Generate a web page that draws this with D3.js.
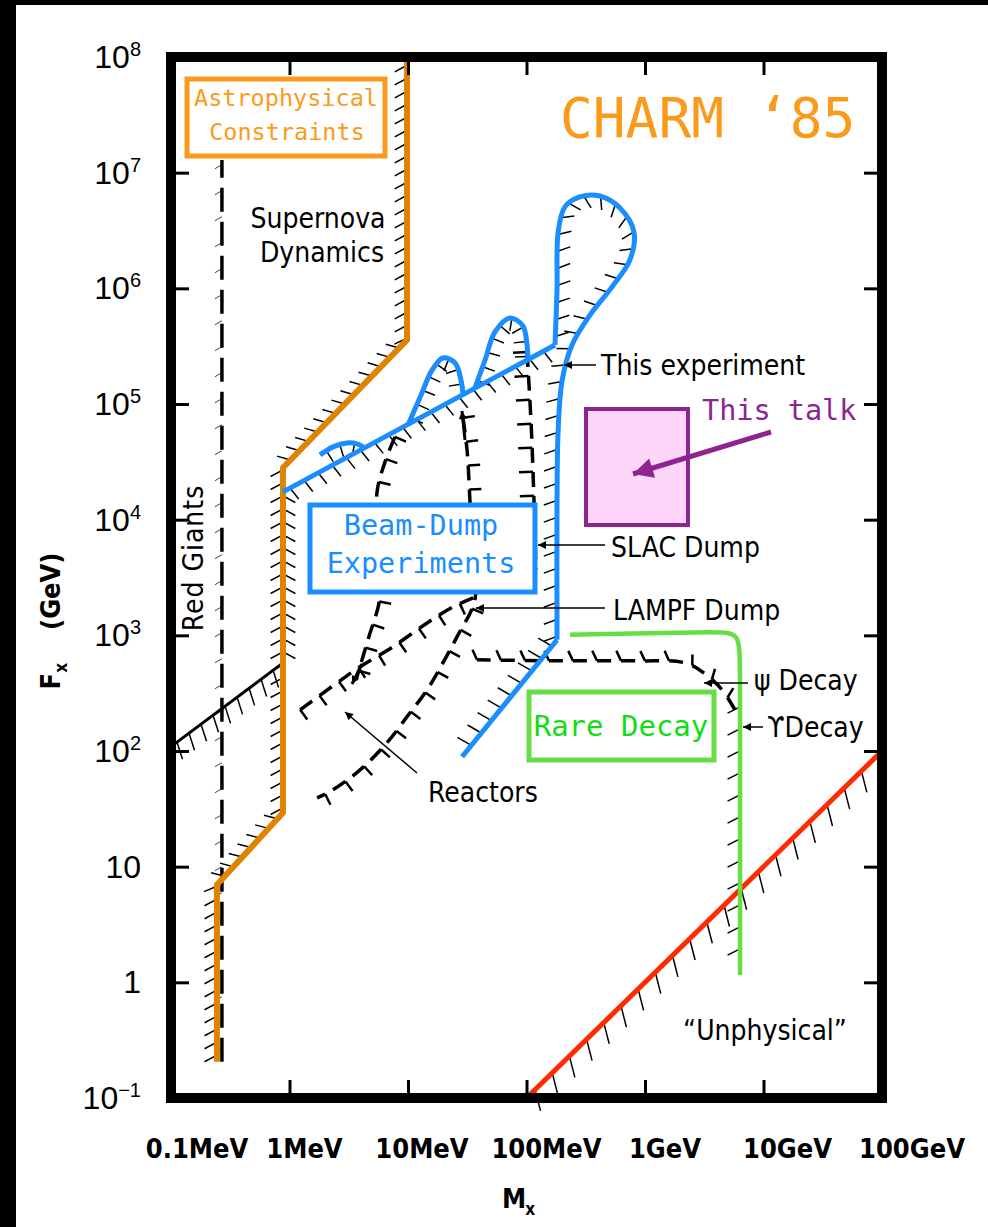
<!DOCTYPE html>
<meta charset="utf-8">
<style>
body{margin:0;background:#fff}
svg{display:block}
.tick line{stroke:#000;stroke-width:3}
.lbl{font-family:'DejaVu Sans Condensed','DejaVu Sans',sans-serif;font-stretch:condensed;font-size:28px;fill:#000}
.ax{font-family:'DejaVu Sans Condensed','DejaVu Sans',sans-serif;font-stretch:condensed;font-weight:bold;font-size:27px;fill:#000}
.yt{font-family:'Liberation Sans Narrow','Liberation Sans',sans-serif;font-size:32px;fill:#000}
.mono{font-family:'DejaVu Sans Mono',monospace}
</style>
<script src="https://d3js.org/d3.v7.min.js"></script>
<svg width="988" height="1227"></svg>
<script>
// axes (M_x and F_x in GeV)
var xTicks = [1e-4, 1e-3, 1e-2, 1e-1, 1, 10, 100];
var xTickLabels = ["0.1MeV", "1MeV", "10MeV", "100MeV", "1GeV", "10GeV", "100GeV"];
var yTicks = [1e-1, 1, 10, 1e2, 1e3, 1e4, 1e5, 1e6, 1e7, 1e8];
var yTickLabels = ["10^\u22121", "1", "10", "10^2", "10^3", "10^4", "10^5", "10^6", "10^7", "10^8"];

// limit curves, [M_x, F_x]
var astroLimit = [[2.44e-4, 0.206], [2.44e-4, 6.98], [8.81e-4, 29.2], [8.81e-4, 2.81e4], [9.82e-3, 3.58e5], [9.82e-3, 9.4e7]];
var redGiants = [[2.69e-4, 0.206], [2.69e-4, 1.29e7]];
var lowMassLimit = [[1e-4, 109], [8.81e-4, 578]];
var unphysical = [[0.1, 0.1], [100, 100]];
var dumpEdge = [[8.81e-4, 1.74e4], [0.174, 3.24e5]];
var dumpLoop = [[0.174, 3.24e5], [0.181, 9.7e5], [0.185, 3.07e6], [0.211, 5.06e6], [0.282, 6.17e6], [0.417, 6.29e6],
  [0.615, 4.95e6], [0.807, 3.07e6], [0.746, 1.76e6], [0.527, 1.03e6], [0.344, 5.89e5], [0.242, 3.24e5],
  [0.2, 1.61e5], [0.185, 5.97e4], [0.181, 1.48e4], [0.181, 914]];
var dumpTail = [[0.181, 914], [0.0286, 89.1]];
var bump1 = [[1.81e-3, 3.63e4], [2.33e-3, 4.26e4], [3.05e-3, 4.61e4], [3.72e-3, 4.52e4], [4.17e-3, 4.26e4]];
var bump2 = [[0.01, 6.59e4], [0.0126, 1.13e5], [0.016, 1.97e5], [0.0197, 2.5e5], [0.0249, 2.27e5], [0.028, 1.61e5], [0.0291, 1.22e5]];
var bump3 = [[0.0367, 1.38e5], [0.0447, 2.4e5], [0.0542, 4.2e5], [0.0726, 5.55e5], [0.0933, 4.73e5], [0.101, 3.24e5], [0.103, 2.4e5]];
var rareDecay = [[0.233, 1010], [3.67, 1070], [6.34, 1070], [6.34, 614], [6.34, 1.16]];
var upsilonLimit = [[6.34, 300], [6.34, 1.3]];
var psiLimit = [[0.0382, 614], [0.192, 602], [0.908, 602], [2.18, 578], [3.21, 465], [4.47, 338], [5.74, 227]];
var lampfLimit = [[0.0291, 7.59e4], [0.0315, 4.01e4], [0.0333, 1.48e4], [0.0354, 4.5e3], [0.0367, 2.03e3], [0.0259, 970],
  [0.0197, 578], [0.0145, 338], [9.82e-3, 198], [6.65e-3, 118], [3.94e-3, 68.7], [2.33e-3, 46.2], [1.71e-3, 39.4]];
var reactorLimit = [[1.23e-3, 227], [2.52e-3, 388], [3.94e-3, 535], [7.46e-3, 796], [0.0145, 1.28e3], [0.024, 1.76e3], [0.0354, 2.11e3]];
var reactorLimit2 = [[7.76e-3, 5.2e4], [6.4e-3, 3.16e4], [5.47e-3, 1.71e4], [5.6e-3, 5e3], [5.81e-3, 2.15e3], [4.59e-3, 914], [3.64e-3, 412]];
var slacLimit = [[0.101, 2.82e5], [0.109, 7.29e4], [0.1156, 1.48e4], [0.12, 3.68e3]];

var W = 988, H = 1227;
var margin = {top: 57, right: 106, bottom: 129, left: 171};
var x = d3.scaleLog().domain([1e-4, 100]).range([margin.left, W - margin.right]);
var y = d3.scaleLog().domain([0.1, 1e8]).range([H - margin.bottom, margin.top]);

var svg = d3.select("svg");
svg.append("rect").attr("width", W).attr("height", H).attr("fill", "#fff");
svg.append("rect").attr("width", 16).attr("height", H).attr("fill", "#000");
svg.append("rect").attr("width", W).attr("height", 5).attr("fill", "#000");

var defs = svg.append("defs");
function marker(id, color, w, h) {
  defs.append("marker").attr("id", id).attr("viewBox", "0 0 10 10").attr("refX", 10).attr("refY", 5)
    .attr("markerUnits", "userSpaceOnUse").attr("markerWidth", w).attr("markerHeight", h).attr("orient", "auto")
    .append("path").attr("d", "M0,0L10,5L0,10Z").attr("fill", color);
}
marker("arK", "#000", 14, 8);
marker("arP", "#8e2490", 26, 20);

var gH = svg.append("g"), gL = svg.append("g");

function trace(data, o) {
  var gen = d3.line().x(function(d) { return x(d[0]); }).y(function(d) { return y(d[1]); })
    .curve(o.curve || d3.curveLinear);
  var p = gL.append("path").attr("d", gen(data)).attr("fill", "none")
    .attr("stroke", o.color || "#000").attr("stroke-width", o.width || 3.5)
    .attr("stroke-linejoin", "round");
  if (o.dash) p.attr("stroke-dasharray", o.dash);
  return p;
}

// short hatch strokes along a path, on one side
function hatch(path, o) {
  var node = path.node(), L = node.getTotalLength();
  var step = o.step || 14, len = o.len || 14, side = o.side || 1, r = (o.rot || 0) * Math.PI / 180;
  for (var s = (o.offset != null ? o.offset : step / 2); s < L; s += step) {
    var p = node.getPointAtLength(s);
    if (o.when && !o.when(p)) continue;
    var a = node.getPointAtLength(Math.max(0, s - 2)), b = node.getPointAtLength(Math.min(L, s + 2));
    var tx = b.x - a.x, ty = b.y - a.y, m = Math.hypot(tx, ty) || 1;
    tx /= m; ty /= m;
    var nx = side * ty, ny = -side * tx;
    var dx = nx * Math.cos(r) - ny * Math.sin(r), dy = nx * Math.sin(r) + ny * Math.cos(r);
    gH.append("line").attr("x1", p.x).attr("y1", p.y).attr("x2", p.x + dx * len).attr("y2", p.y + dy * len)
      .attr("stroke", o.color || "#000").attr("stroke-width", o.w || 1.5);
  }
}

var cr = d3.curveCatmullRom.alpha(0.5);

// old black limits
var rg = trace(redGiants, {dash: "24 10", width: 3.5});
hatch(rg, {side: 1, rot: -30, len: 8, step: 26, color: "#444", w: 1});
var lm = trace(lowMassLimit, {width: 3});
hatch(lm, {side: -1, rot: 19, len: 18, step: 15});
var lampf = trace(lampfLimit, {curve: cr, dash: "15 9"});
hatch(lampf, {side: 1, rot: 0, len: 12, step: 24, offset: 0, w: 2.5});
var reac = trace(reactorLimit, {curve: cr, dash: "15 9"});
hatch(reac, {side: -1, rot: 0, len: 12, step: 24, offset: 0, w: 2.5});
var reac2 = trace(reactorLimit2, {curve: cr, dash: "15 9"});
hatch(reac2, {side: 1, rot: 0, len: 12, step: 24, offset: 0, w: 2.5});
var slac = trace(slacLimit, {curve: cr, dash: "15 9"});
hatch(slac, {side: -1, rot: 0, len: 14, step: 24, offset: 0, w: 2.5});
var psi = trace(psiLimit, {curve: cr, dash: "14 10"});
hatch(psi, {side: 1, rot: -25, len: 11, step: 24, offset: 0, w: 2.5});
var ups = trace(upsilonLimit, {width: 1});
hatch(ups, {side: -1, rot: -27, len: 14, step: 22});

// coloured overlays
var unph = trace(unphysical, {color: "#ff2a00", width: 5});
hatch(unph, {side: -1, rot: 30, len: 22, step: 24});
var astro = trace(astroLimit, {color: "#e08300", width: 6});
hatch(astro, {side: 1, rot: -28, len: 14, step: 13});
hatch(astro, {side: -1, rot: 28, len: 14, step: 13, when: function(p) { return p.y > 490 && p.y < 655 && Math.abs(p.x - 282) < 4; }});
var edge = trace(dumpEdge, {color: "#1a8dff", width: 5});
hatch(edge, {side: -1, rot: -10, len: 14, step: 16});
var loop = trace(dumpLoop, {color: "#1a8dff", width: 5, curve: cr});
hatch(loop, {side: -1, rot: -20, len: 14, step: 17});
var tail = trace(dumpTail, {color: "#1a8dff", width: 5});
hatch(tail, {side: -1, rot: -9, len: 16, step: 16});
[bump1, bump2, bump3].forEach(function(b) {
  var p = trace(b, {color: "#1a8dff", width: 5, curve: cr});
  hatch(p, {side: -1, rot: 0, len: 13, step: 15});
});
trace(rareDecay, {color: "#66dd44", width: 4.5, curve: d3.curveBasis});

// frame and ticks
svg.append("rect").attr("x", x.range()[0]).attr("y", y.range()[1])
  .attr("width", x.range()[1] - x.range()[0]).attr("height", y.range()[0] - y.range()[1])
  .attr("fill", "none").attr("stroke", "#000").attr("stroke-width", 10);
function ticks(axis, tx, ty) {
  svg.append("g").attr("transform", "translate(" + tx + "," + ty + ")")
    .call(axis.tickSize(-18).tickFormat(""))
    .call(function(g) { g.select(".domain").remove(); });
}
ticks(d3.axisLeft(y).tickValues(yTicks), x.range()[0], 0);
ticks(d3.axisRight(y).tickValues(yTicks), x.range()[1], 0);
ticks(d3.axisBottom(x).tickValues(xTicks), 0, y.range()[0]);
ticks(d3.axisTop(x).tickValues(xTicks), 0, y.range()[1]);

// tick labels
yTicks.forEach(function(v, i) {
  var parts = yTickLabels[i].split("^");
  var t = svg.append("text").attr("class", "yt").attr("x", 141).attr("y", y(v) + 11).attr("text-anchor", "end");
  t.append("tspan").text(parts[0]);
  if (parts[1]) t.append("tspan").attr("dy", -12).attr("font-size", 20).text(parts[1]);
});
var xNudge = [26, 15, 14, 20, 20, 24, 30];
xTicks.forEach(function(v, i) {
  svg.append("text").attr("class", "ax").attr("x", x(v) + xNudge[i]).attr("y", 1158)
    .attr("text-anchor", "middle").text(xTickLabels[i]);
});

// axis titles
var ft = svg.append("text").attr("class", "ax").attr("text-anchor", "middle")
  .attr("transform", "translate(60,621) rotate(-90)");
ft.append("tspan").text("F");
ft.append("tspan").attr("dy", 7).attr("font-size", 17).text("x");
ft.append("tspan").attr("dy", -7).attr("dx", 33).text("(GeV)");
var mt = svg.append("text").attr("class", "ax").attr("x", 502).attr("y", 1208);
mt.append("tspan").text("M");
mt.append("tspan").attr("dy", 7).attr("dx", -1).attr("font-size", 17).text("x");

// black annotations
function label(txt, px, py, anchor) {
  svg.append("text").attr("class", "lbl").attr("x", px).attr("y", py)
    .attr("text-anchor", anchor || "start").text(txt);
}
function arrow(x1, y1, x2, y2, color, mk, w) {
  svg.append("line").attr("x1", x1).attr("y1", y1).attr("x2", x2).attr("y2", y2)
    .attr("stroke", color).attr("stroke-width", w).attr("marker-end", "url(#" + mk + ")");
}
label("Supernova", 318, 228, "middle");
label("Dynamics", 322, 262, "middle");
label("This experiment", 601, 375);
label("SLAC Dump", 611, 557);
label("LAMPF Dump", 613, 620);
label("\u03c8 Decay", 754, 690);
label("\u03d2Decay", 767, 737);
label("Reactors", 428, 802);
label("\u201cUnphysical\u201d", 765, 1040, "middle");
svg.append("text").attr("class", "lbl").attr("text-anchor", "middle").attr("letter-spacing", 1)
  .attr("transform", "translate(203,558) rotate(-90)").text("Red Giants");
arrow(596, 365, 564, 365, "#000", "arK", 1.5);
arrow(605, 545, 538, 545, "#000", "arK", 1.5);
arrow(605, 608, 476, 608, "#000", "arK", 1.5);
arrow(748, 683, 704, 683, "#000", "arK", 1.5);
arrow(763, 727, 743, 727, "#000", "arK", 1.5);
arrow(417, 773, 345, 712, "#000", "arK", 1.5);
arrow(465, 440, 462, 411, "#000", "arK", 3);
arrow(362, 664, 352, 684, "#000", "arK", 3);

// coloured boxes and slide labels
svg.append("rect").attr("x", 187).attr("y", 79).attr("width", 198).attr("height", 77)
  .attr("fill", "#fff").attr("stroke", "#fb9a1a").attr("stroke-width", 5);
svg.append("text").attr("class", "mono").attr("x", 286).attr("y", 106).attr("text-anchor", "middle")
  .attr("font-size", 23.5).attr("fill", "#fb9a1a").text("Astrophysical");
svg.append("text").attr("class", "mono").attr("x", 287).attr("y", 140).attr("text-anchor", "middle")
  .attr("font-size", 23.5).attr("fill", "#fb9a1a").text("Constraints");
svg.append("text").attr("class", "mono").attr("x", 560).attr("y", 137)
  .attr("font-size", 54.5).attr("fill", "#fb9a1a").text("CHARM \u201885");

svg.append("rect").attr("x", 310).attr("y", 505).attr("width", 225).attr("height", 87)
  .attr("fill", "#fff").attr("stroke", "#1a8dff").attr("stroke-width", 5);
svg.append("text").attr("class", "mono").attr("x", 421).attr("y", 535).attr("text-anchor", "middle")
  .attr("font-size", 28.5).attr("fill", "#1a8dff").text("Beam-Dump");
svg.append("text").attr("class", "mono").attr("x", 421).attr("y", 573).attr("text-anchor", "middle")
  .attr("font-size", 28.5).attr("fill", "#1a8dff").text("Experiments");

svg.append("rect").attr("x", 586).attr("y", 409).attr("width", 102).attr("height", 116)
  .attr("fill", "#fdd6fa").attr("stroke", "#8e2490").attr("stroke-width", 4);
svg.append("text").attr("class", "mono").attr("x", 702).attr("y", 420)
  .attr("font-size", 28.5).attr("fill", "#8e2490").text("This talk");
arrow(771, 432, 633, 474, "#8e2490", "arP", 5);

svg.append("rect").attr("x", 529).attr("y", 692).attr("width", 185).attr("height", 68)
  .attr("fill", "#fff").attr("stroke", "#66dd44").attr("stroke-width", 5);
svg.append("text").attr("class", "mono").attr("x", 621).attr("y", 736).attr("text-anchor", "middle")
  .attr("font-size", 29).attr("fill", "#11dd11").text("Rare Decay");
</script>
